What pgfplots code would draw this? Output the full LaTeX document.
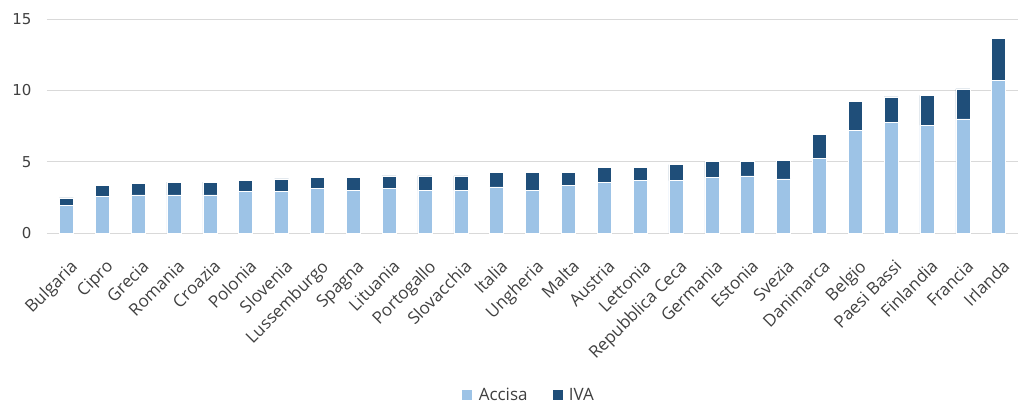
\documentclass[border=0pt]{standalone}
\usepackage{fontspec}
\setmainfont{Open Sans}
\newfontfamily\numfont{DejaVu Sans}
\usepackage{pgfplots}
\usepackage{pgfplotstable}
\pgfplotsset{compat=1.18}
\usetikzlibrary{calc}

\definecolor{accisa}{HTML}{9DC3E6}
\definecolor{iva}{HTML}{1F4E79}
\definecolor{gridgray}{HTML}{D9D9D9}
\definecolor{txt}{HTML}{404040}

% idx, accisa, IVA
\pgfplotstableread{
idx accisa iva
0  1.92 0.54
1  2.55 0.77
2  2.67 0.79
3  2.67 0.89
4  2.67 0.89
5  2.90 0.77
6  2.90 0.89
7  3.11 0.80
8  3.00 0.91
9  3.11 0.89
10 3.00 1.00
11 3.00 1.00
12 3.23 1.00
13 3.00 1.25
14 3.35 0.90
15 3.56 1.02
16 3.67 0.91
17 3.67 1.12
18 3.89 1.11
19 4.00 1.00
20 3.80 1.30
21 5.21 1.69
22 7.21 2.00
23 7.77 1.77
24 7.56 2.09
25 8.00 2.10
26 10.68 2.97
}\datatable

\begin{document}
\begin{tikzpicture}
\begin{axis}[
  name=ax,
  scale only axis,
  width=971bp, height=214bp,
  ybar stacked,
  bar width=14bp,
  xmin=-0.54, xmax=26.54,
  ymin=0, ymax=15,
  ytick={0,5,10,15},
  xtick=data,
  xticklabels={Bulgaria,Cipro,Grecia,Romania,Croazia,Polonia,Slovenia,Lussemburgo,Spagna,Lituania,Portogallo,Slovacchia,Italia,Ungheria,Malta,Austria,Lettonia,Repubblica Ceca,Germania,Estonia,Svezia,Danimarca,Belgio,Paesi Bassi,Finlandia,Francia,Irlanda},
  major tick length=0pt,
  axis line style={draw=none},
  ymajorgrids,
  grid style={gridgray, line width=0.8bp},
  /pgf/number format/assume math mode=true,
  tick label style={text=txt},
  yticklabel style={font=\numfont\fontsize{15bp}{17bp}\selectfont, xshift=-12bp},
  xticklabel style={font=\fontsize{17bp}{19bp}\selectfont, rotate=45, anchor=north east, inner sep=0pt, xshift=-16bp, yshift=-20bp},
  legend style={at={(0.496,-0.757)}, anchor=center, draw=none,
    font=\fontsize{17bp}{19bp}\selectfont, text=txt,
    /tikz/every even column/.append style={column sep=22bp}},
  legend columns=2,
  legend image code/.code={\fill[#1] (0bp,-5bp) rectangle (11bp,6bp);},
]
\addplot[fill=accisa, draw=white, line width=0.4bp] table[x=idx, y=accisa] {\datatable};
\addplot[fill=iva, draw=white, line width=0.4bp] table[x=idx, y=iva] {\datatable};
\legend{\hspace{4bp}Accisa, \hspace{4bp}IVA}
\end{axis}
\useasboundingbox ($(ax.south west)+(-47bp,-172bp)$) rectangle ($(ax.north east)+(15bp,19bp)$);
\end{tikzpicture}
\end{document}
